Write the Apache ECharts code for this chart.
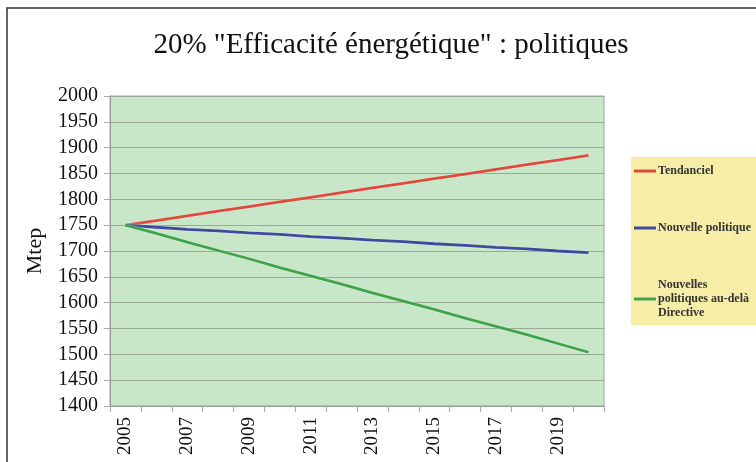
<!DOCTYPE html>
<html><head><meta charset="utf-8">
<script src="https://cdn.jsdelivr.net/npm/echarts@6/dist/echarts.min.js"></script>
<style>html,body{margin:0;padding:0;background:#fff}#c{width:756px;height:462px}</style>
</head><body><div id="c"></div>
<script>
const years = ['2005','2006','2007','2008','2009','2010','2011','2012','2013','2014','2015','2016','2017','2018','2019','2020'];
const tendanciel = [1750,1759,1768,1777,1786,1795,1804,1813,1822,1831,1840,1849,1858,1867,1876,1885];
const nouvellePolitique = [1750,1746,1742,1739,1735,1732,1728,1725,1721,1718,1714,1711,1707,1704,1700,1697];
const auDela = [1750,1734,1717,1701,1685,1668,1652,1636,1619,1603,1587,1570,1554,1538,1521,1504];
const seriesNames = ['Tendanciel','Nouvelle politique','Nouvelles\npolitiques au-delà\nDirective'];
const yTicks = {min:1400, max:2000, interval:50};

const chart = echarts.init(document.getElementById('c'));
const serif = '"Liberation Serif","DejaVu Serif",serif';
const mk = (name, data, color) => ({
  name, type:'line', data, symbol:'none', smooth:false,
  lineStyle:{color, width:2.8, shadowColor:'rgba(255,255,255,0.6)', shadowBlur:2},
  itemStyle:{color}
});
chart.setOption({
  animation:false,
  title:{text:'20% "Efficacité énergétique" : politiques', left:386, top:26, textAlign:'center',
    textStyle:{fontFamily:serif, fontSize:29, fontWeight:'normal', color:'#111'}},
  graphic:[
    {type:'rect', shape:{x:7, y:8, width:760, height:470}, style:{fill:'none', stroke:'#333', lineWidth:1.5}, z:-10},
    {type:'rect', shape:{x:631, y:157, width:130, height:168}, style:{fill:'#f6eda6', stroke:'none'}, z:-5}
  ],
  legend:{
    orient:'vertical', left:634, top:164, padding:0, itemWidth:22, itemHeight:3, itemGap:43,
    icon:'rect',
    data: seriesNames,
    textStyle:{fontFamily:serif, fontSize:12, fontWeight:'bold', color:'#333', lineHeight:14, padding:[0,0,0,-3]}
  },
  grid:{left:110, top:96, width:494, height:310, show:true, backgroundColor:'#c8e6c8', borderColor:'#9aa89a', borderWidth:1},
  xAxis:{type:'category', data:years, boundaryGap:true,
    axisLine:{lineStyle:{color:'#999'}},
    axisTick:{show:true, interval:0, length:6, lineStyle:{color:'#aaa'}},
    axisLabel:{interval:1, rotate:90, fontFamily:serif, fontSize:19, color:'#111', margin:11}
  },
  yAxis:{type:'value', min:yTicks.min, max:yTicks.max, interval:yTicks.interval,
    name:'Mtep', nameLocation:'middle', nameGap:64, nameRotate:90,
    nameTextStyle:{fontFamily:serif, fontSize:22, color:'#111'},
    axisLine:{show:true, lineStyle:{color:'#999'}},
    axisTick:{show:true, length:6, lineStyle:{color:'#aaa'}},
    axisLabel:{fontFamily:serif, fontSize:20, color:'#111', margin:12, formatter: v => String(v)},
    splitLine:{lineStyle:{color:'#9aa89a', width:1}}
  },
  series:[
    mk(seriesNames[0], tendanciel, '#e04a3a'),
    mk(seriesNames[1], nouvellePolitique, '#3d4a9e'),
    mk(seriesNames[2], auDela, '#3ea54a')
  ]
});
</script></body></html>
